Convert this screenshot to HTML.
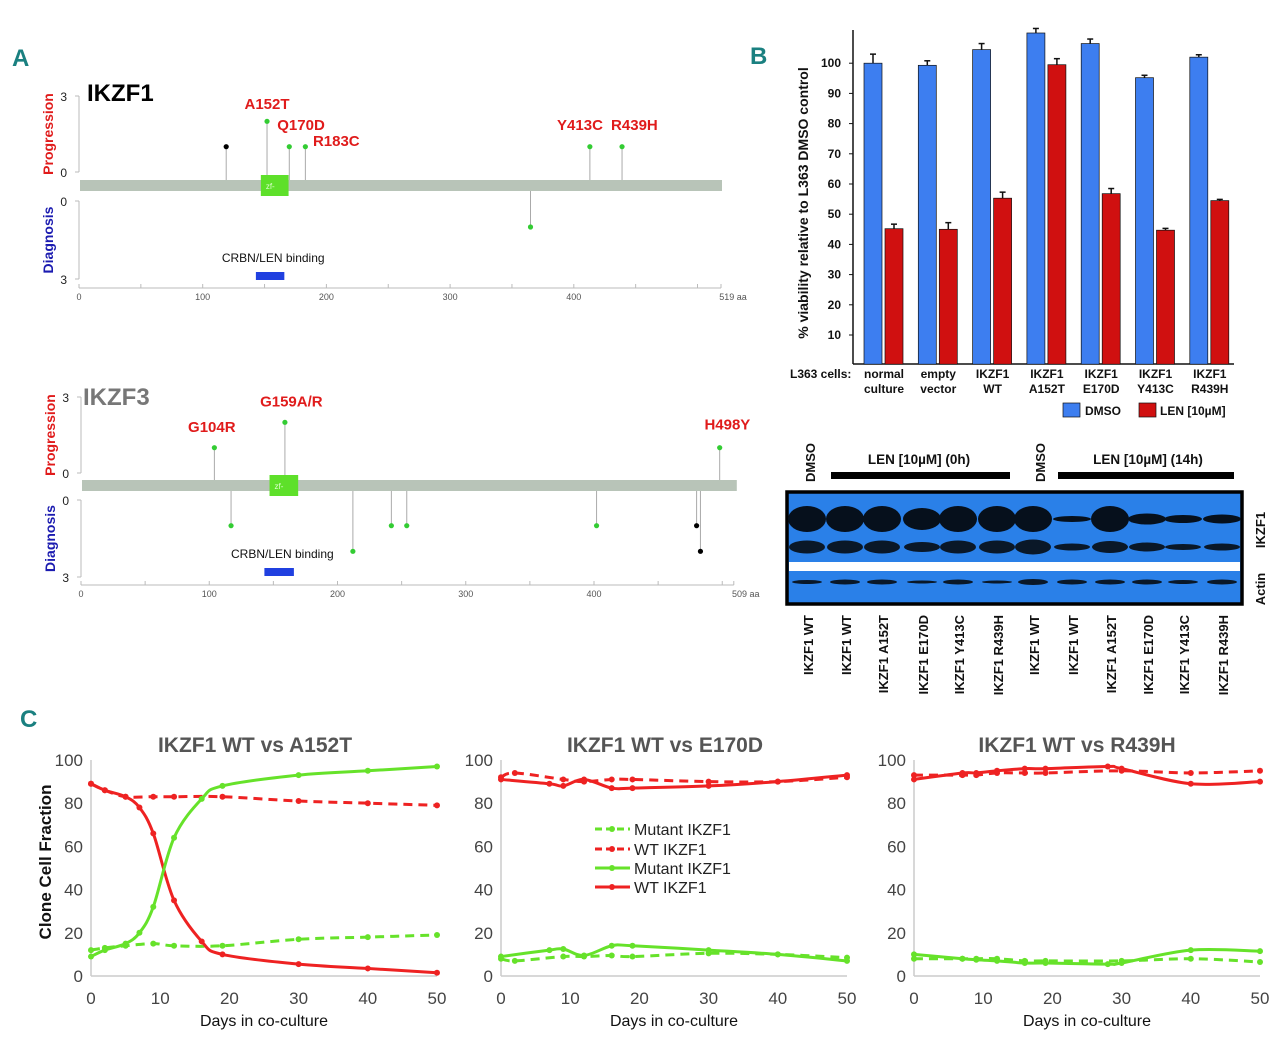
<!DOCTYPE html>
<html><head><meta charset="utf-8"><style>
html,body{margin:0;padding:0;background:#fff;}
svg{display:block;font-family:"Liberation Sans",sans-serif;}
.nar{font-family:"Liberation Sans Narrow","Liberation Sans",sans-serif;}
</style></head><body>
<svg id="fig" width="1280" height="1043" viewBox="0 0 1280 1043">
<g id="A"></g>
<g id="B"></g>
<g id="W"></g>
<g id="C"></g>
</svg>
<script>
// ---------- Panel B data ----------
const bCats=[["normal","culture"],["empty","vector"],["IKZF1","WT"],["IKZF1","A152T"],["IKZF1","E170D"],["IKZF1","Y413C"],["IKZF1","R439H"]];
const bDmso=[100,99.3,104.5,110,106.5,95.2,102];
const bDmsoErr=[3,1.5,2,1.5,1.5,0.8,0.8];
const bLen=[45.2,45.0,55.3,99.5,56.8,44.7,54.5];
const bLenErr=[1.5,2.2,2,2,1.7,0.6,0.4];
const bTicks=[10,20,30,40,50,60,70,80,90,100];
// ---------- Panel A data ----------
const ikzf1Prog=[{aa:119,h:1,c:"#000"},{aa:152,h:2,c:"#3c3"},{aa:170,h:1,c:"#3c3"},{aa:183,h:1,c:"#3c3"},{aa:413,h:1,c:"#3c3"},{aa:439,h:1,c:"#3c3"}];
const ikzf1Diag=[{aa:365,h:1,c:"#3c3"}];
const ikzf1Labels=[["A152T",152,2.17],["Q170D",179.5,1.34],["R183C",208,0.71],["Y413C",405,1.34],["R439H",449,1.34]];
const ikzf3Prog=[{aa:104,h:1,c:"#3c3"},{aa:159,h:2,c:"#3c3"},{aa:498,h:1,c:"#3c3"}];
const ikzf3Diag=[{aa:117,h:1,c:"#3c3"},{aa:212,h:2,c:"#3c3"},{aa:242,h:1,c:"#3c3"},{aa:254,h:1,c:"#3c3"},{aa:402,h:1,c:"#3c3"},{aa:480,h:1,c:"#000"},{aa:483,h:2,c:"#000"}];
const ikzf3Labels=[["G104R",102,1.3],["G159A/R",164,2.3],["H498Y",504,1.4]];
// ---------- Panel C data ----------
const cDays1=[0,2,5,7,9,12,16,19,30,40,50];
const c1WT=[89,86,83,78,66,35,16,10,5.5,3.5,1.5];
const c1Mut=[9,12,15,20,32,64,82,88,93,95,97];
const cDaysD1=[0,2,5,9,12,19,30,40,50];
const c1WTd=[89,86,83,83,83,83,81,80,79];
const c1Mutd=[12,13,14,15,14,14,17,18,19];
const cDays2=[0,7,9,12,16,19,30,40,50];
const c2WT=[91,89,88,91,87,87,88,90,93];
const c2Mut=[9,12,12.5,9.5,14,14,12,10,7];
const cDaysD2=[0,2,9,12,16,19,30,40,50];
const c2WTd=[92,94,91,90,91,91,90,90,92];
const c2Mutd=[8,7,9,9,9.5,9,10.5,10,8.5];
const cDays3=[0,7,9,12,16,19,28,30,40,50];
const c3WT=[91,94,94,95,96,96,97,96,89,90];
const c3Mut=[10,8,7.5,7,6,6,5.5,6,12,11.5];
const cDaysD3=[0,7,9,12,16,19,30,40,50];
const c3WTd=[93,93,93,94,94,94,95,94,95];
const c3Mutd=[8,8,8,8,7,7,7,8,6.5];
const cYTicks=[0,20,40,60,80,100];
const cXTicks=[0,10,20,30,40,50];

const NS="http://www.w3.org/2000/svg";
function mk(parent,tag,attrs,text){const e=document.createElementNS(NS,tag);for(const k in attrs)e.setAttribute(k,attrs[k]);if(text!==undefined)e.textContent=text;parent.appendChild(e);return e;}

// ---------- Panel A ----------
const A=document.getElementById('A');
let t=mk(A,'text',{x:12,y:66,'font-size':24,'font-weight':'bold',fill:'#1a8080',class:'nar'},'A');


function lollipop(g,cfg){
  const X=aa=>cfg.x0+aa*cfg.s;
  const pH=(cfg.p0-cfg.p3)/3, dH=(cfg.d3-cfg.d0)/3;
  let e=mk(g,'line',{x1:cfg.x0,y1:cfg.p3,x2:cfg.x0,y2:cfg.p0,stroke:'#bbb'});
  
  
  e=mk(g,'line',{x1:cfg.x0,y1:cfg.d0,x2:cfg.x0,y2:cfg.d3,stroke:'#bbb'});
  
  
  [[cfg.p3,'3'],[cfg.p0,'0'],[cfg.d0,'0'],[cfg.d3,'3']].forEach(([y,l])=>{mk(g,'line',{x1:cfg.x0-4,y1:y,x2:cfg.x0,y2:y,stroke:'#bbb'});mk(g,'text',{x:cfg.x0-12,y:y+5,'font-size':12,fill:'#222','text-anchor':'end'},l);});
  e=mk(g,'text',{transform:`translate(${cfg.x0-26},${(cfg.p3+cfg.p0)/2}) rotate(-90)`,'font-size':14,'font-weight':'bold',fill:'#e01b1b','text-anchor':'middle'},'Progression');
  
  
  e=mk(g,'text',{transform:`translate(${cfg.x0-26},${(cfg.d3+cfg.d0)/2}) rotate(-90)`,'font-size':14,'font-weight':'bold',fill:'#1b1bb0','text-anchor':'middle'},'Diagnosis');
  
  
  e=mk(g,'line',{x1:cfg.x0,y1:cfg.ax,x2:X(cfg.len),y2:cfg.ax,stroke:'#bbb'});
  
  
  for(let a=0;a<=cfg.len;a+=50){mk(g,'line',{x1:X(a),y1:cfg.ax-4,x2:X(a),y2:cfg.ax,stroke:'#bbb'});if(a%100===0&&a<500)mk(g,'text',{x:X(a),y:cfg.ax+12,'font-size':9,fill:'#555','text-anchor':'middle'},String(a));}
  mk(g,'line',{x1:X(cfg.len),y1:cfg.ax-4,x2:X(cfg.len),y2:cfg.ax,stroke:'#bbb'});
  mk(g,'text',{x:X(cfg.len)+12,y:cfg.ax+12,'font-size':9,fill:'#555','text-anchor':'middle'},cfg.len+' aa');
  cfg.prog.forEach(m=>{const y=cfg.p0-m.h*pH;mk(g,'line',{x1:X(m.aa),y1:cfg.by,x2:X(m.aa),y2:y,stroke:'#aaa'});const c=mk(g,'circle',{cx:X(m.aa),cy:y,r:2.6,fill:m.c});
});
  cfg.diag.forEach(m=>{const y=cfg.d0+m.h*dH;mk(g,'line',{x1:X(m.aa),y1:cfg.by+cfg.bh,x2:X(m.aa),y2:y,stroke:'#aaa'});const c=mk(g,'circle',{cx:X(m.aa),cy:y,r:2.6,fill:m.c});
});
  e=mk(g,'rect',{x:cfg.x0+1,y:cfg.by,width:X(cfg.len)-cfg.x0+cfg.extra,height:cfg.bh,fill:'#b8c4b8'});
  
  
  e=mk(g,'rect',{x:X(147),y:cfg.by-5,width:20*cfg.s+3,height:cfg.bh+10,fill:'#5ee02a'});
  
  
  mk(g,'text',{x:X(147)+5,y:cfg.by+9,'font-size':8,fill:'#dfffd0'},'zf-');
  cfg.labels.forEach(([l,aa,h])=>{const e=mk(g,'text',{x:X(aa),y:cfg.p0-h*pH-8,'font-size':15,'font-weight':'bold',fill:'#e01b1b','text-anchor':'middle',class:'nar'},l);
});
  e=mk(g,'text',{x:X(157),y:cfg.crY,'font-size':12,fill:'#111','text-anchor':'middle'},'CRBN/LEN binding');
  
  
  e=mk(g,'rect',{x:X(143),y:cfg.crY+10,width:23*cfg.s,height:8,fill:'#2040e0'});
  
  
  e=mk(g,'text',{x:cfg.tx,y:cfg.ty,'font-size':24,'font-weight':'bold',fill:cfg.tc,class:'nar'},cfg.title);
  
  
}
lollipop(A,{x0:79,s:1.237,len:519,p3:96,p0:172,d0:201,d3:279,by:180,bh:11,ax:288,prog:ikzf1Prog,diag:ikzf1Diag,labels:ikzf1Labels,crY:262,title:'IKZF1',tx:87,ty:101,tc:'#000',extra:0});
lollipop(A,{x0:81,s:1.2825,len:509,p3:397,p0:473,d0:500,d3:577,by:480,bh:11,ax:585,prog:ikzf3Prog,diag:ikzf3Diag,labels:ikzf3Labels,crY:558,title:'IKZF3',tx:83,ty:405,tc:'#777',extra:2});

// ---------- Panel B ----------
const B=document.getElementById('B');
t=mk(B,'text',{x:750,y:64,'font-size':24,'font-weight':'bold',fill:'#1a8080',class:'nar'},'B');


const bY=v=>365.2-v*3.02;
const bX=i=>873+i*54.3;
let e=mk(B,'line',{x1:853,y1:30,x2:853,y2:364,stroke:'#111','stroke-width':1.5});


e=mk(B,'line',{x1:853,y1:364,x2:1234,y2:364,stroke:'#111','stroke-width':1.5});


bTicks.forEach(v=>{mk(B,'line',{x1:849,y1:bY(v),x2:853,y2:bY(v),stroke:'#111'});const e=mk(B,'text',{x:841,y:bY(v)+4,'font-size':12,'font-weight':'bold','text-anchor':'end',fill:'#111',class:'nar'},String(v));
});
e=mk(B,'text',{transform:'translate(808,203) rotate(-90)','font-size':14,'font-weight':'bold','text-anchor':'middle',fill:'#111',class:'nar'},'% viability relative to L363 DMSO control');


bCats.forEach((c,i)=>{
  const xb=bX(i),xr=bX(i)+21;
  let r=mk(B,'rect',{x:xb-9,y:bY(bDmso[i]),width:18,height:bY(0)-bY(bDmso[i])-1,fill:'#3d7ef0',stroke:'#111','stroke-width':0.7});
  
  
  mk(B,'line',{x1:xb,y1:bY(bDmso[i]),x2:xb,y2:bY(bDmso[i]+bDmsoErr[i]),stroke:'#111','stroke-width':1.5});
  mk(B,'line',{x1:xb-3,y1:bY(bDmso[i]+bDmsoErr[i]),x2:xb+3,y2:bY(bDmso[i]+bDmsoErr[i]),stroke:'#111','stroke-width':1.5});
  r=mk(B,'rect',{x:xr-9,y:bY(bLen[i]),width:18,height:bY(0)-bY(bLen[i])-1,fill:'#d01010',stroke:'#111','stroke-width':0.7});
  
  
  mk(B,'line',{x1:xr,y1:bY(bLen[i]),x2:xr,y2:bY(bLen[i]+bLenErr[i]),stroke:'#111','stroke-width':1.5});
  mk(B,'line',{x1:xr-3,y1:bY(bLen[i]+bLenErr[i]),x2:xr+3,y2:bY(bLen[i]+bLenErr[i]),stroke:'#111','stroke-width':1.5});
  const tx=mk(B,'text',{x:xb+11,y:378,'font-size':12,'font-weight':'bold','text-anchor':'middle',fill:'#111'});
  
  
  mk(tx,'tspan',{x:xb+11,y:378},c[0]);mk(tx,'tspan',{x:xb+11,y:393},c[1]);
});
e=mk(B,'text',{x:790,y:378,'font-size':12,'font-weight':'bold',fill:'#111'},'L363 cells:');


e=mk(B,'rect',{x:1063,y:403,width:17,height:14,fill:'#3d7ef0',stroke:'#111','stroke-width':0.7});


e=mk(B,'text',{x:1085,y:415,'font-size':12,'font-weight':'bold',fill:'#111'},'DMSO');


e=mk(B,'rect',{x:1139,y:403,width:17,height:14,fill:'#d01010',stroke:'#111','stroke-width':0.7});


e=mk(B,'text',{x:1160,y:415,'font-size':12,'font-weight':'bold',fill:'#111'},'LEN [10µM]');



// ---------- Western blot ----------
const W=document.getElementById('W');
const lanes=[807,845,882,922,958,997,1033,1072,1110,1147,1183,1222];
const laneLabels=["IKZF1 WT","IKZF1 WT","IKZF1 A152T","IKZF1 E170D","IKZF1 Y413C","IKZF1 R439H","IKZF1 WT","IKZF1 WT","IKZF1 A152T","IKZF1 E170D","IKZF1 Y413C","IKZF1 R439H"];
const upperBand=[24,24,24,20,24,24,24,4,24,9,6,7];
const lowerBand=[11,11,11,8,11,11,13,5,10,7,4,5];
const actinBand=[4,5,5,3,5,3,6,5,5,5,4,5];
e=mk(W,'rect',{x:787,y:492,width:455,height:112,fill:'#2a80e8',stroke:'#000','stroke-width':3.5});


lanes.forEach((x,i)=>{
  mk(W,'ellipse',{cx:x,cy:519,rx:19,ry:upperBand[i]/2+1,fill:'#06101c'});
  mk(W,'ellipse',{cx:x,cy:547,rx:18,ry:lowerBand[i]/2+1,fill:'#0a1828'});
  mk(W,'ellipse',{cx:x,cy:582,rx:15,ry:actinBand[i]/2,fill:'#0a1828'});
  const l=mk(W,'text',{transform:`translate(${x+6},615) rotate(-90)`,'font-size':13,'font-weight':'bold','text-anchor':'end',fill:'#111'},laneLabels[i]);
  
  
});
mk(W,'rect',{x:789,y:562,width:451,height:9,fill:'#fff'});
[[810,'DMSO'],[1040,'DMSO']].forEach(([x,l])=>{const e=mk(W,'text',{transform:`translate(${x+5},482) rotate(-90)`,'font-size':13,'font-weight':'bold',fill:'#111'},l);
});
e=mk(W,'text',{x:919,y:464,'font-size':13.5,'font-weight':'bold','text-anchor':'middle',fill:'#111'},'LEN [10µM] (0h)');


mk(W,'rect',{x:831,y:472,width:179,height:7,fill:'#000'});
e=mk(W,'text',{x:1148,y:464,'font-size':13.5,'font-weight':'bold','text-anchor':'middle',fill:'#111'},'LEN [10µM] (14h)');


mk(W,'rect',{x:1058,y:472,width:176,height:7,fill:'#000'});
e=mk(W,'text',{transform:'translate(1265,530) rotate(-90)','font-size':13,'font-weight':'bold','text-anchor':'middle',fill:'#111'},'IKZF1');


e=mk(W,'text',{transform:'translate(1265,589) rotate(-90)','font-size':13,'font-weight':'bold','text-anchor':'middle',fill:'#111'},'Actin');



// ---------- Panel C ----------
const C=document.getElementById('C');
t=mk(C,'text',{x:20,y:727,'font-size':24,'font-weight':'bold',fill:'#1a8080',class:'nar'},'C');


function smooth(pts){let d=`M${pts[0][0]},${pts[0][1]}`;for(let i=0;i<pts.length-1;i++){const p0=pts[i-1]||pts[i],p1=pts[i],p2=pts[i+1],p3=pts[i+2]||p2;const c1=[p1[0]+(p2[0]-p0[0])/6,p1[1]+(p2[1]-p0[1])/6],c2=[p2[0]-(p3[0]-p1[0])/6,p2[1]-(p3[1]-p1[1])/6];d+=` C${c1[0]},${c1[1]} ${c2[0]},${c2[1]} ${p2[0]},${p2[1]}`;}return d;}
function lineChart(cfg){
  const g=mk(C,'g',{});
  
  
  const X=d=>cfg.x0+d*(cfg.x1-cfg.x0)/50, Y=v=>976-v*2.16;
  mk(g,'line',{x1:cfg.x0,y1:Y(100),x2:cfg.x0,y2:Y(0),stroke:'#ccc','stroke-width':1.5});
  mk(g,'line',{x1:cfg.x0,y1:Y(0),x2:cfg.x1,y2:Y(0),stroke:'#ccc','stroke-width':1.5});
  cYTicks.forEach(v=>{const e=mk(g,'text',{x:cfg.x0-8,y:Y(v)+6,'font-size':17,'text-anchor':'end',fill:'#444',class:'nar'},String(v));
});
  cXTicks.forEach(v=>{const e=mk(g,'text',{x:X(v),y:1004,'font-size':17,'text-anchor':'middle',fill:'#444',class:'nar'},String(v));
});
  let e=mk(g,'text',{x:(cfg.x0+cfg.x1)/2,y:1026,'font-size':16,'text-anchor':'middle',fill:'#111',class:'nar'},'Days in co-culture');
  
  
  e=mk(g,'text',{x:cfg.tx,y:752,'font-size':21,'font-weight':'bold','text-anchor':'middle',fill:'#555',class:'nar'},cfg.title);
  
  
  cfg.series.forEach(s=>{
    const pts=s.d.map((d,i)=>[X(d),Y(s.v[i])]);
    const p=mk(g,'path',{d:smooth(pts),fill:'none',stroke:s.c,'stroke-width':3,'stroke-dasharray':s.dash?'9,6':'none'});
    
    
    pts.forEach(q=>mk(g,'circle',{cx:q[0],cy:q[1],r:3,fill:s.c}));
  });
}
const GR='#66e22a',RD='#ee2222';
lineChart({name:'chart-a152t',x0:91,x1:437,tx:255,title:'IKZF1 WT vs A152T',series:[
 {n:'wt-dashed',d:cDaysD1,v:c1WTd,c:RD,dash:1},{n:'mutant-dashed',d:cDaysD1,v:c1Mutd,c:GR,dash:1},
 {n:'wt-solid',d:cDays1,v:c1WT,c:RD},{n:'mutant-solid',d:cDays1,v:c1Mut,c:GR}]});
lineChart({name:'chart-e170d',x0:501,x1:847,tx:665,title:'IKZF1 WT vs E170D',series:[
 {n:'wt-dashed',d:cDaysD2,v:c2WTd,c:RD,dash:1},{n:'mutant-dashed',d:cDaysD2,v:c2Mutd,c:GR,dash:1},
 {n:'wt-solid',d:cDays2,v:c2WT,c:RD},{n:'mutant-solid',d:cDays2,v:c2Mut,c:GR}]});
lineChart({name:'chart-r439h',x0:914,x1:1260,tx:1077,title:'IKZF1 WT vs R439H',series:[
 {n:'wt-dashed',d:cDaysD3,v:c3WTd,c:RD,dash:1},{n:'mutant-dashed',d:cDaysD3,v:c3Mutd,c:GR,dash:1},
 {n:'wt-solid',d:cDays3,v:c3WT,c:RD},{n:'mutant-solid',d:cDays3,v:c3Mut,c:GR}]});
e=mk(C,'text',{transform:'translate(51,862) rotate(-90)','font-size':17,'font-weight':'bold','text-anchor':'middle',fill:'#111',class:'nar'},'Clone Cell Fraction');


[['Mutant IKZF1',GR,1,834],['WT IKZF1',RD,1,854],['Mutant IKZF1',GR,0,873],['WT IKZF1',RD,0,892]].forEach(([l,c,d,y])=>{
  const lg=mk(C,'g',{});
  
  
  mk(lg,'line',{x1:595,y1:y-5,x2:630,y2:y-5,stroke:c,'stroke-width':3,'stroke-dasharray':d?'7,4':'none'});
  mk(lg,'circle',{cx:612,cy:y-5,r:3,fill:c});
  mk(lg,'text',{x:634,y:y+1,'font-size':16,fill:'#222',class:'nar'},l);
});
</script>
</body></html>
